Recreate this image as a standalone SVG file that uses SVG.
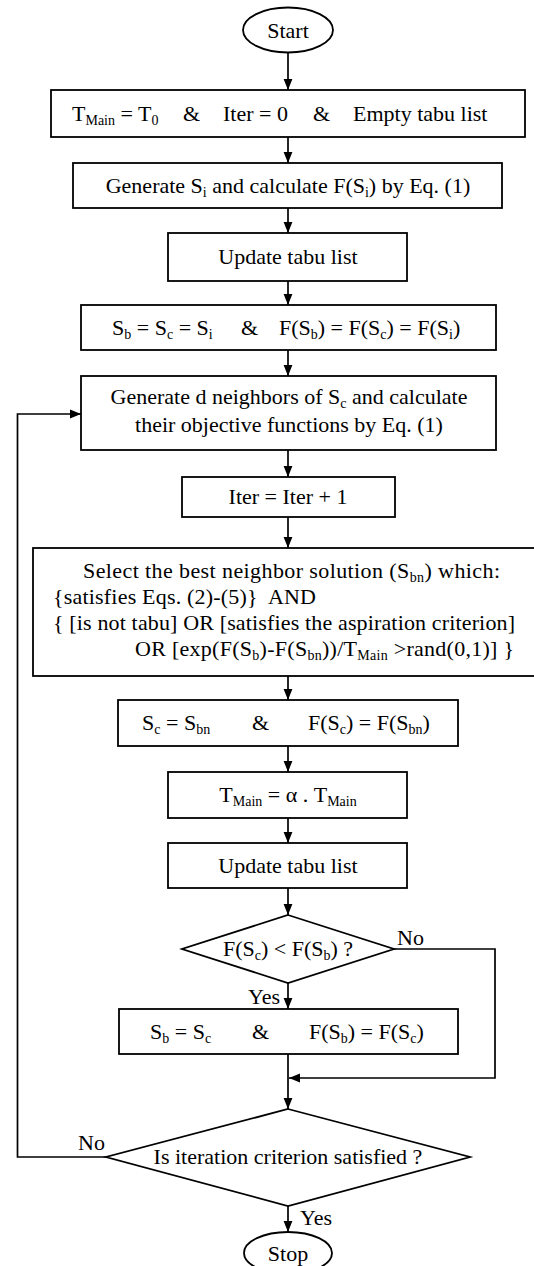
<svg xmlns="http://www.w3.org/2000/svg" width="534" height="1266" viewBox="0 0 534 1266">
<style>
.n{fill:#fff;stroke:#000;stroke-width:1.8}
.c{fill:none;stroke:#000;stroke-width:1.7}
text{font-family:"Liberation Serif","Times New Roman",serif;font-size:22px;fill:#000}
.s{font-size:14px}
.m{text-anchor:middle}
</style>
<defs>
<marker id="ah" markerWidth="11" markerHeight="10" refX="11" refY="5" orient="auto" markerUnits="userSpaceOnUse"><path d="M0,0.6 L11,5 L0,9.4 z" fill="#000"/></marker>
</defs>
<rect width="534" height="1266" fill="#fff"/>
<g id="connectors">
<line class="c" x1="288" y1="52" x2="288" y2="90" marker-end="url(#ah)"/>
<line class="c" x1="288" y1="137" x2="288" y2="163" marker-end="url(#ah)"/>
<line class="c" x1="288" y1="208" x2="288" y2="233" marker-end="url(#ah)"/>
<line class="c" x1="288" y1="281" x2="288" y2="305" marker-end="url(#ah)"/>
<line class="c" x1="288" y1="350" x2="288" y2="376" marker-end="url(#ah)"/>
<line class="c" x1="288" y1="450" x2="288" y2="477" marker-end="url(#ah)"/>
<line class="c" x1="288" y1="517" x2="288" y2="548" marker-end="url(#ah)"/>
<line class="c" x1="288" y1="676" x2="288" y2="700" marker-end="url(#ah)"/>
<line class="c" x1="288" y1="746" x2="288" y2="772" marker-end="url(#ah)"/>
<line class="c" x1="288" y1="818" x2="288" y2="843" marker-end="url(#ah)"/>
<line class="c" x1="288" y1="888" x2="288" y2="915" marker-end="url(#ah)"/>
<line class="c" x1="288" y1="983" x2="288" y2="1009" marker-end="url(#ah)"/>
<path class="c" d="M394,949 H495 V1078 H289" marker-end="url(#ah)"/>
<line class="c" x1="288" y1="1054" x2="288" y2="1109" marker-end="url(#ah)"/>
<line class="c" x1="288" y1="1206" x2="288" y2="1232" marker-end="url(#ah)"/>
<path class="c" d="M106,1157 H17.5 V414 H81" marker-end="url(#ah)"/>
<text x="397" y="945">No</text>
<text x="248" y="1004">Yes</text>
<text x="78" y="1150">No</text>
<text x="300" y="1225">Yes</text>
</g>
<g id="start">
<ellipse class="n" cx="288" cy="30" rx="45" ry="22.5"/>
<text class="m" x="288" y="38">Start</text>
</g>
<g id="init">
<rect class="n" x="51" y="90" width="474" height="47"/>
<text y="121"><tspan x="72">T</tspan><tspan class="s" dy="4">Main</tspan><tspan dy="-4"> = T</tspan><tspan class="s" dy="4">0</tspan><tspan x="183" dy="-4">&amp;</tspan><tspan x="223">Iter = 0</tspan><tspan x="313">&amp;</tspan><tspan x="353">Empty tabu list</tspan></text>
</g>
<g id="generate-si">
<rect class="n" x="73" y="163" width="429" height="45"/>
<text class="m" x="288" y="193">Generate S<tspan class="s" dy="4">i</tspan><tspan dy="-4"> and calculate F(S</tspan><tspan class="s" dy="4">i</tspan><tspan dy="-4">) by Eq. (1)</tspan></text>
</g>
<g id="update1">
<rect class="n" x="168" y="233" width="239" height="48"/>
<text class="m" x="288" y="264">Update tabu list</text>
</g>
<g id="assign-best">
<rect class="n" x="81" y="305" width="415" height="45"/>
<text y="335"><tspan x="112">S</tspan><tspan class="s" dy="4">b</tspan><tspan dy="-4"> = S</tspan><tspan class="s" dy="4">c</tspan><tspan dy="-4"> = S</tspan><tspan class="s" dy="4">i</tspan><tspan x="241" dy="-4">&amp;</tspan><tspan x="279">F(S</tspan><tspan class="s" dy="4">b</tspan><tspan dy="-4">) = F(S</tspan><tspan class="s" dy="4">c</tspan><tspan dy="-4">) = F(S</tspan><tspan class="s" dy="4">i</tspan><tspan dy="-4">)</tspan></text>
</g>
<g id="neighbors">
<rect class="n" x="81" y="376" width="415" height="74"/>
<text class="m" x="289" y="404">Generate d neighbors of S<tspan class="s" dy="4">c</tspan><tspan dy="-4"> and calculate</tspan></text>
<text class="m" x="289" y="432">their objective functions by Eq. (1)</text>
</g>
<g id="iter">
<rect class="n" x="182" y="477" width="213" height="40"/>
<text class="m" x="288" y="504">Iter = Iter + 1</text>
</g>
<g id="select">
<rect class="n" x="33" y="548" width="530" height="128"/>
<text x="83" y="578" textLength="417">Select the best neighbor solution (S<tspan class="s" dy="4">bn</tspan><tspan dy="-4">) which:</tspan></text>
<text x="53" y="604" textLength="263">{satisfies Eqs. (2)-(5)}&#160; AND</text>
<text x="53" y="630" textLength="462">{ [is not tabu] OR [satisfies the aspiration criterion]</text>
<text x="135" y="656" textLength="379">OR [exp(F(S<tspan class="s" dy="4">b</tspan><tspan dy="-4">)-F(S</tspan><tspan class="s" dy="4">bn</tspan><tspan dy="-4">))/T</tspan><tspan class="s" dy="4">Main</tspan><tspan dy="-4"> &gt;rand(0,1)] }</tspan></text>
</g>
<g id="assign-current">
<rect class="n" x="118" y="700" width="340" height="46"/>
<text y="730"><tspan x="142">S</tspan><tspan class="s" dy="4">c</tspan><tspan dy="-4"> = S</tspan><tspan class="s" dy="4">bn</tspan><tspan x="252" dy="-4">&amp;</tspan><tspan x="308">F(S</tspan><tspan class="s" dy="4">c</tspan><tspan dy="-4">) = F(S</tspan><tspan class="s" dy="4">bn</tspan><tspan dy="-4">)</tspan></text>
</g>
<g id="cooling">
<rect class="n" x="168" y="772" width="239" height="46"/>
<text class="m" x="288" y="802">T<tspan class="s" dy="4">Main</tspan><tspan dy="-4"> = α . T</tspan><tspan class="s" dy="4">Main</tspan></text>
</g>
<g id="update2">
<rect class="n" x="168" y="843" width="239" height="45"/>
<text class="m" x="288" y="873">Update tabu list</text>
</g>
<g id="compare">
<polygon class="n" points="288,915 394,949 288,983 182,949"/>
<text class="m" x="288" y="956">F(S<tspan class="s" dy="4">c</tspan><tspan dy="-4">) &lt; F(S</tspan><tspan class="s" dy="4">b</tspan><tspan dy="-4">) ?</tspan></text>
</g>
<g id="update-best">
<rect class="n" x="119" y="1009" width="339" height="45"/>
<text y="1039"><tspan x="150">S</tspan><tspan class="s" dy="4">b</tspan><tspan dy="-4"> = S</tspan><tspan class="s" dy="4">c</tspan><tspan x="252" dy="-4">&amp;</tspan><tspan x="309">F(S</tspan><tspan class="s" dy="4">b</tspan><tspan dy="-4">) = F(S</tspan><tspan class="s" dy="4">c</tspan><tspan dy="-4">)</tspan></text>
</g>
<g id="stop-check">
<polygon class="n" points="288,1109 470,1157 288,1206 106,1157"/>
<text class="m" x="288" y="1164">Is iteration criterion satisfied ?</text>
</g>
<g id="stop">
<ellipse class="n" cx="288" cy="1253" rx="44" ry="21"/>
<text class="m" x="288" y="1261">Stop</text>
</g>
</svg>
